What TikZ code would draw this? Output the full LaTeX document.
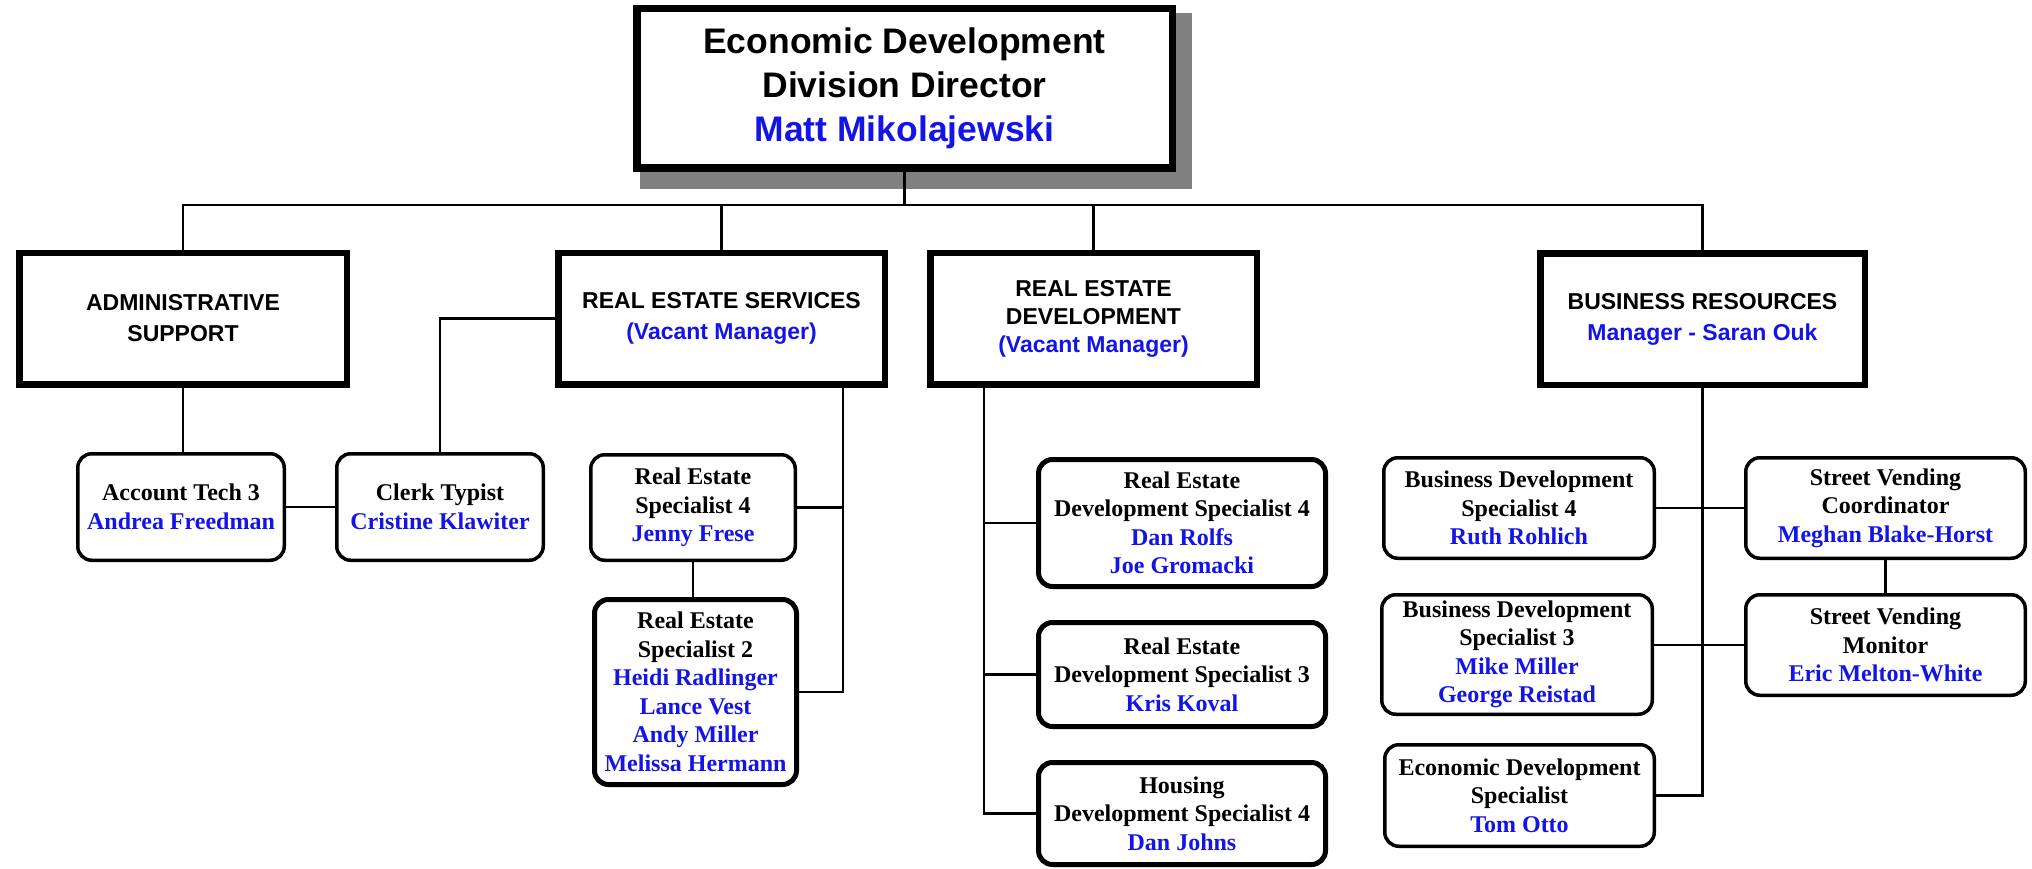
\documentclass[tikz,border=0pt]{standalone}
\usepackage{fontspec}
\setmainfont{Liberation Serif}
\newfontfamily\arialf{Liberation Sans}
\usetikzlibrary{calc,backgrounds}
\definecolor{nb}{RGB}{20,20,230}
\definecolor{shadowgray}{RGB}{128,128,128}
\newcommand{\nmx}[1]{\textcolor{nb}{#1}}
\begin{document}
\begin{tikzpicture}[x=1pt,y=-1pt,
  conn/.style={line width=2.2pt},
  dirbox/.style={draw, line width=7.5pt, fill=white, minimum width=535.5pt, minimum height=159.5pt, align=center, inner sep=0pt, font=\arialf\bfseries\fontsize{35.5}{44}\selectfont},
  secbox/.style={draw, line width=6.5pt, fill=white, minimum width=327pt, minimum height=131.5pt, align=center, inner sep=0pt, font=\arialf\bfseries\fontsize{23}{31}\selectfont},
  posbox/.style={draw, line width=3.5pt, rounded corners=14pt, fill=white, align=center, inner sep=0pt, font=\bfseries\fontsize{24}{28.5}\selectfont},
  thickpos/.style={posbox, line width=5pt}]
\useasboundingbox (0,0) rectangle (2032,869);
\coordinate (busy) at (0,205);

% director
\node[dirbox] (dir) at (904.5,88.5) {Economic Development\\Division Director\\\nmx{Matt Mikolajewski}};
\begin{scope}[on background layer]
  \fill[shadowgray] ($(dir.south west)+(7.25,16.75)$) rectangle ($(dir.north east)+(15.75,8.25)$);
\end{scope}

% sections
\node[secbox, minimum width=327.5pt] (admin) at (183,318.5) {ADMINISTRATIVE\\SUPPORT};
\node[secbox, minimum width=326.5pt] (res) at (721.5,318.5) {REAL ESTATE SERVICES\\\nmx{(Vacant Manager)}};
\node[secbox, minimum width=326.5pt, font=\arialf\bfseries\fontsize{23}{28}\selectfont] (red) at (1093.5,318.5) {REAL ESTATE\\DEVELOPMENT\\\nmx{(Vacant Manager)}};
\node[secbox, minimum width=324.5pt] (br) at (1702.5,319) {BUSINESS RESOURCES\\\nmx{Manager - Saran Ouk}};

% positions
\node[posbox, minimum width=206.5pt, minimum height=106.5pt] (at) at (181,507) {Account Tech 3\\\nmx{Andrea Freedman}};
\node[posbox, minimum width=206.5pt, minimum height=106.5pt] (clerk) at (440,507) {Clerk Typist\\\nmx{Cristine Klawiter}};
\node[posbox, minimum width=204.5pt, minimum height=105.5pt] (res4) at (693,507.5) {Real Estate\\Specialist 4\\\nmx{Jenny Frese}};
\node[thickpos, minimum width=202pt, minimum height=185pt] (res2) at (695.5,692) {Real Estate\\Specialist 2\\\nmx{Heidi Radlinger}\\\nmx{Lance Vest}\\\nmx{Andy Miller}\\\nmx{Melissa Hermann}};
\node[thickpos, minimum width=287pt, minimum height=127pt] (reds4) at (1182,523) {Real Estate\\Development Specialist 4\\\nmx{Dan Rolfs}\\\nmx{Joe Gromacki}};
\node[thickpos, minimum width=287pt, minimum height=104pt] (reds3) at (1182,674.5) {Real Estate\\Development Specialist 3\\\nmx{Kris Koval}};
\node[thickpos, minimum width=287pt, minimum height=102pt] (hous) at (1182,813.5) {Housing\\Development Specialist 4\\\nmx{Dan Johns}};
\node[posbox, minimum width=270.5pt, minimum height=100.5pt] (bds4) at (1519,508) {Business Development\\Specialist 4\\\nmx{Ruth Rohlich}};
\node[posbox, minimum width=270.5pt, minimum height=119.5pt] (bds3) at (1517,654.5) {Business Development\\Specialist 3\\\nmx{Mike Miller}\\\nmx{George Reistad}};
\node[posbox, minimum width=269.5pt, minimum height=101.5pt] (eds) at (1519.5,795.5) {Economic Development\\Specialist\\\nmx{Tom Otto}};
\node[posbox, minimum width=279.5pt, minimum height=100.5pt] (svc) at (1885.5,508) {Street Vending\\Coordinator\\\nmx{Meghan Blake-Horst}};
\node[posbox, minimum width=279.5pt, minimum height=100.5pt] (svm) at (1885.5,645) {Street Vending\\Monitor\\\nmx{Eric Melton-White}};

% connectors
\draw[conn] (dir.south) -- (dir.south |- busy);
\draw[conn] (admin.north) -- (admin.north |- busy) -- (br.north |- busy) -- (br.north);
\draw[conn] (res.north) -- (res.north |- busy);
\draw[conn] (red.north) -- (red.north |- busy);

\draw[conn] (admin.south) -- (admin.south |- at.north);
\draw[conn] (at) -- (clerk);
\draw[conn] (res.west) -| (clerk.north);

\coordinate (resv) at ($(res.south east)+(-45,0)$);
\draw[conn] (resv) |- (res2.east);
\draw[conn] (res4.east) -- (res4.east -| resv);
\draw[conn] (res4.south) -- (res4.south |- res2.north);

\coordinate (redv) at ($(red.south west)+(57,0)$);
\draw[conn] (redv) |- (hous.west);
\draw[conn] (reds4.west) -- (reds4.west -| redv);
\draw[conn] (reds3.west) -- (reds3.west -| redv);

\draw[conn] (br.south) |- (eds.east);
\draw[conn] (bds4) -- (svc);
\draw[conn] (svm.west) -- (svm.west -| bds3.east);
\draw[conn] (svc.south) -- (svm.north);
\end{tikzpicture}
\end{document}
